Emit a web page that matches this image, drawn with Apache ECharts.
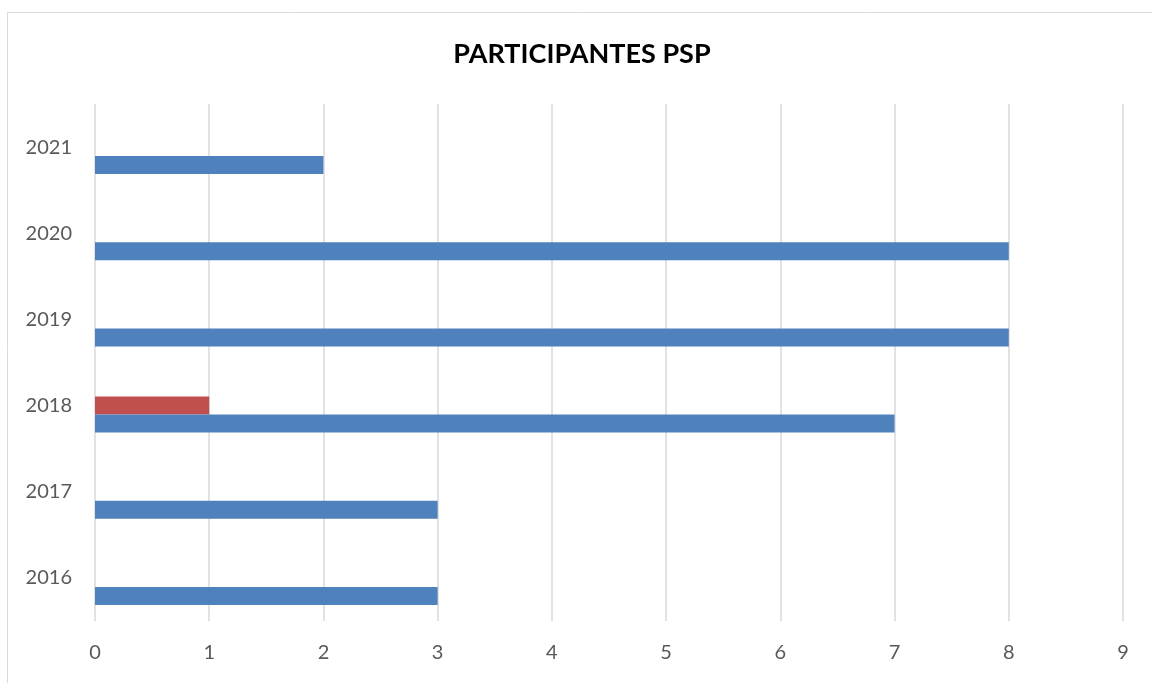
<!DOCTYPE html>
<html>
<head>
<meta charset="utf-8">
<script src="https://cdn.jsdelivr.net/npm/echarts@6/dist/echarts.min.js"></script>
<style>
  html, body { margin: 0; padding: 0; background: #fff; }
  #chart { width: 1152px; height: 683px; }
</style>
</head>
<body>
<div id="chart"></div>
<script>
// datos
const years = ['2016', '2017', '2018', '2019', '2020', '2021'];
const serieAzul = [3, 3, 7, 8, 8, 2];
const serieRoja = [null, null, 1, null, null, null];
const serieVacia = [null, null, null, null, null, null];
const xTicks = [0, 1, 2, 3, 4, 5, 6, 7, 8, 9];

const chart = echarts.init(document.getElementById('chart'));

const option = {
  animation: false,
  textStyle: { fontFamily: 'Lato' },
  title: {
    text: 'PARTICIPANTES PSP',
    left: 577,
    top: 36,
    textAlign: 'center',
    textStyle: { fontFamily: 'Lato', fontWeight: 'bold', fontSize: 27, color: '#000' }
  },
  graphic: [
    {
      type: 'rect',
      shape: { x: 7.5, y: 12.5, width: 1300, height: 800 },
      style: { fill: 'none', stroke: '#d9d9d9', lineWidth: 1 },
      silent: true
    }
  ],
  grid: { left: 95, right: 29, top: 104, bottom: 62 },
  xAxis: {
    type: 'value',
    min: xTicks[0],
    max: xTicks[xTicks.length - 1],
    interval: 1,
    axisLine: { show: false },
    axisTick: { show: false },
    splitLine: { lineStyle: { color: '#d9d9d9', width: 1.5 } },
    axisLabel: { color: '#595959', fontSize: 20, margin: 22, fontFamily: 'Lato' }
  },
  yAxis: {
    type: 'category',
    data: years,
    axisLine: { show: false },
    axisTick: { show: false },
    axisLabel: { color: '#595959', fontSize: 20, margin: 23, fontFamily: 'Lato' }
  },
  series: [
    { name: 'vacia', type: 'bar', data: serieVacia, barWidth: 18, barGap: '0%' },
    { name: 'roja', type: 'bar', data: serieRoja, barWidth: 18, barGap: '0%', itemStyle: { color: '#c0504d' } },
    { name: 'azul', type: 'bar', data: serieAzul, barWidth: 18, barGap: '0%', itemStyle: { color: '#4f81bd' } }
  ]
};

chart.setOption(option);
</script>
</body>
</html>
